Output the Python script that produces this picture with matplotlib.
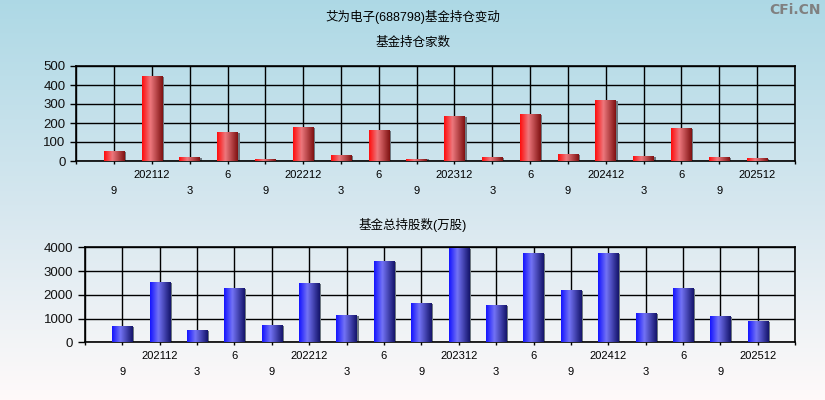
import numpy as np
import matplotlib.pyplot as plt
from matplotlib.colors import LinearSegmentedColormap

plt.rcParams['font.family'] = ['Liberation Sans', 'Noto Sans CJK SC', 'DejaVu Sans']

# quarters, 2021-09 .. 2025-12
quarters = ['9', '202112', '3', '6', '9', '202212', '3', '6', '9',
            '202312', '3', '6', '9', '202412', '3', '6', '9', '202512']
fund_count = [49, 444, 17, 149, 7, 175, 28, 160, 10,
              233, 17, 244, 33, 318, 23, 170, 17, 12]
fund_shares = [646, 2498, 477, 2246, 688, 2456, 1109, 3382, 1614,
               3930, 1530, 3719, 2161, 3719, 1193, 2246, 1067, 856]

title = '艾为电子(688798)基金持仓变动'
sub1 = '基金持仓家数'
sub2 = '基金总持股数(万股)'

red_cmap = LinearSegmentedColormap.from_list(
    'r', [(0, (1.0, 0.05, 0.05)), (0.4, (0.93, 0.47, 0.49)), (1, (0.50, 0.07, 0.07))])
blue_cmap = LinearSegmentedColormap.from_list(
    'b', [(0, (0.08, 0.08, 1.0)), (0.4, (0.45, 0.45, 0.96)), (1, (0.08, 0.08, 0.42))])

fig = plt.figure(figsize=(8.25, 4.0), dpi=100)

# background gradient
bg = fig.add_axes([0, 0, 1, 1], zorder=-10)
grad = np.linspace(0, 1, 256).reshape(-1, 1)
bg_cmap = LinearSegmentedColormap.from_list(
    'bg', [(0, (0.68, 0.85, 0.90)), (0.55, (0.85, 0.91, 0.94)), (1, (1.0, 0.98, 0.98))])
bg.imshow(grad, aspect='auto', cmap=bg_cmap, extent=[0, 1, 0, 1])
bg.axis('off')


def draw_panel(rect, values, ymax, ystep, cmap, subtitle, sub_y, ytick_len):
    ax = fig.add_axes(rect)
    ax.patch.set_alpha(0)
    x = np.arange(len(values))
    w = 0.54
    # shadow
    ax.bar(x + 0.05, values, width=w, color='#6e7880', zorder=2)
    bars = ax.bar(x, values, width=w, color='none', zorder=3)
    g = np.linspace(0, 1, 64).reshape(1, -1)
    for b in bars:
        x0, y0 = b.get_x(), b.get_y()
        ax.imshow(g, cmap=cmap, aspect='auto', zorder=3,
                  extent=[x0, x0 + b.get_width(), y0, y0 + b.get_height()])
    ax.set_xlim(-1, len(values))
    ax.set_ylim(0, ymax)
    ax.set_aspect('auto')

    yt = np.arange(0, ymax + 1, ystep)
    ax.set_yticks(yt)
    ax.set_yticklabels([str(v) for v in yt], fontsize=9.5, color='#111111')
    ax.tick_params(axis='y', length=ytick_len, width=1, pad=3.5)

    upper = [i for i in x if i % 2 == 1]
    lower = [i for i in x if i % 2 == 0]
    ax.set_xticks([-1] + upper + [len(values)])
    ax.set_xticklabels([''] + [quarters[i] for i in upper] + [''], fontsize=8)
    ax.set_xticks(lower, minor=True)
    ax.set_xticklabels([quarters[i] for i in lower], minor=True, fontsize=8)
    ax.tick_params(axis='x', which='major', length=2.5, width=1, pad=4.0)
    ax.tick_params(axis='x', which='minor', length=2.5, width=1, pad=15.5)

    ax.grid(True, which='both', color='black', linewidth=1, zorder=1)
    ax.set_axisbelow(True)
    for s in ax.spines.values():
        s.set_linewidth(1.2)
    fig.text(0.5, sub_y, subtitle, ha='center', va='center', fontsize=9)
    return ax


ax1 = draw_panel([0.0924, 0.5975, 0.871, 0.2375], fund_count, 500, 100,
                 red_cmap, sub1, 1 - 43 / 400, 4.3)
ax2 = draw_panel([0.1029, 0.144, 0.861, 0.2375], fund_shares, 4000, 1000,
                 blue_cmap, sub2, 1 - 225 / 400, 5.0)

fig.text(0.5, 1 - 17 / 400, title, ha='center', va='center', fontsize=9)
fig.text(0.995, 1 - 10 / 400, 'CFi.CN', ha='right', va='center', fontsize=10,
         fontweight='bold', color='#808080', family='DejaVu Sans')

fig.savefig('out.png', dpi=100)
